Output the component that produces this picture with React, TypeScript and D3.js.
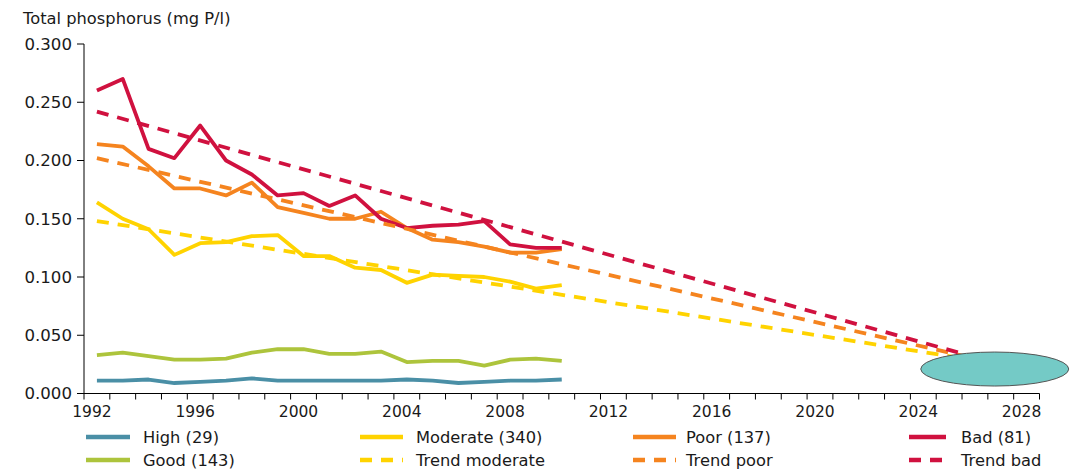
import React from "react";
import * as d3 from "d3";

// ---- data ----
const years = [1992,1993,1994,1995,1996,1997,1998,1999,2000,2001,2002,2003,2004,2005,2006,2007,2008,2009,2010];
const high = [0.011,0.011,0.012,0.009,0.010,0.011,0.013,0.011,0.011,0.011,0.011,0.011,0.012,0.011,0.009,0.010,0.011,0.011,0.012];
const good = [0.033,0.035,0.032,0.029,0.029,0.030,0.035,0.038,0.038,0.034,0.034,0.036,0.027,0.028,0.028,0.024,0.029,0.030,0.028];
const moderate = [0.164,0.150,0.141,0.119,0.129,0.130,0.135,0.136,0.118,0.118,0.108,0.106,0.095,0.102,0.101,0.100,0.096,0.090,0.093];
const poor = [0.214,0.212,0.195,0.176,0.176,0.170,0.181,0.160,0.155,0.150,0.150,0.156,0.142,0.132,0.130,0.126,0.121,0.121,0.124];
const bad = [0.260,0.270,0.210,0.202,0.230,0.200,0.188,0.170,0.172,0.161,0.170,0.150,0.142,0.144,0.145,0.148,0.128,0.125,0.125];
const trendYears = [1992, 2027];
const trendModerate = [0.148, 0.025];
const trendPoor = [0.202, 0.025];
const trendBad = [0.242, 0.025];
const targetYear = 2027;
const targetValue = 0.021;
const axisYears = d3.range(1992, 2029);
const xTickLabels = [1992,1996,2000,2004,2008,2012,2016,2020,2024,2028];
const yTicks = [0, 0.05, 0.1, 0.15, 0.2, 0.25, 0.3];
const yTitle = "Total phosphorus (mg P/l)";

const C = {
  high: "#4a8fa6",
  good: "#adc43c",
  moderate: "#ffd300",
  poor: "#f5841f",
  bad: "#d0113f",
};

const legendRows = [
  [
    { label: "High (29)", color: C.high, dash: false },
    { label: "Moderate (340)", color: C.moderate, dash: false },
    { label: "Poor (137)", color: C.poor, dash: false },
    { label: "Bad (81)", color: C.bad, dash: false },
  ],
  [
    { label: "Good (143)", color: C.good, dash: false },
    { label: "Trend moderate", color: C.moderate, dash: true },
    { label: "Trend poor", color: C.poor, dash: true },
    { label: "Trend bad", color: C.bad, dash: true },
  ],
];

export default function App() {
  const W = 1081, H = 471;
  const x0 = 84, x1 = 1039.5, yTop = 44, yBot = 393.5;
  const band = d3.scaleBand<number>().domain(axisYears).range([x0, x1]).paddingInner(0).paddingOuter(0);
  const bw = band.bandwidth();
  const xc = (yr: number) => (band(yr) as number) + bw / 2;
  const y = d3.scaleLinear().domain([0, 0.3]).range([yBot, yTop]);
  const line = d3.line<[number, number]>().x(d => xc(d[0])).y(d => y(d[1]));
  const series = (vals: number[]) => line(years.map((yr, i) => [yr, vals[i]] as [number, number])) as string;
  const trend = (vals: number[]) => line(trendYears.map((yr, i) => [yr, vals[i]] as [number, number])) as string;
  const font = "'DejaVu Sans', Verdana, sans-serif";
  const dash = "12 9";
  const legendCols = [
    { sx: 86, sw: 44, tx: 143 },
    { sx: 360, sw: 43, tx: 416 },
    { sx: 633, sw: 43, tx: 686 },
    { sx: 909, sw: 37, tx: 961 },
  ];
  const rowY = [437, 460];

  return (
    <svg width={W} height={H} style={{ position: "absolute", left: 0, top: 0, background: "#fff" }} fontFamily={font}>
      <text x={23} y={23.5} fontSize={16.3} fill="#1a1a1a">{yTitle}</text>
      {/* y axis */}
      <line x1={x0} x2={x0} y1={yTop} y2={yBot} stroke="#000" strokeWidth={1} />
      {yTicks.map(t => (
        <g key={t}>
          <line x1={x0 - 7} x2={x0} y1={y(t)} y2={y(t)} stroke="#000" />
          <text x={72} y={y(t)} dy="0.36em" textAnchor="end" fontSize={16.6} fill="#1a1a1a">{d3.format(".3f")(t)}</text>
        </g>
      ))}
      {/* x axis */}
      <line x1={x0} x2={x1} y1={yBot} y2={yBot} stroke="#000" />
      {axisYears.concat([2029]).map((yr, i) => {
        const xx = i < axisYears.length ? (band(yr) as number) : x1;
        return <line key={yr} x1={xx} x2={xx} y1={yBot} y2={yBot + 6} stroke="#000" />;
      })}
      {xTickLabels.map(yr => (
        <text key={yr} x={xc(yr) - 5} y={417} textAnchor="middle" fontSize={15.5} fill="#1a1a1a">{yr}</text>
      ))}
      {/* series */}
      <g fill="none" strokeWidth={3.8} strokeLinejoin="round">
        <path d={series(high)} stroke={C.high} />
        <path d={series(good)} stroke={C.good} />
        <path d={series(moderate)} stroke={C.moderate} />
        <path d={series(poor)} stroke={C.poor} />
        <path d={series(bad)} stroke={C.bad} />
        <path d={trend(trendModerate)} stroke={C.moderate} strokeDasharray={dash} />
        <path d={trend(trendPoor)} stroke={C.poor} strokeDasharray={dash} />
        <path d={trend(trendBad)} stroke={C.bad} strokeDasharray={dash} />
      </g>
      {/* target ellipse */}
      <ellipse cx={xc(targetYear) - 6} cy={y(targetValue)} rx={74} ry={17} fill="#74cac6" stroke="#555" strokeWidth={1} />
      {/* legend */}
      {legendRows.map((row, r) =>
        row.map((item, c) => (
          <g key={item.label}>
            <line x1={legendCols[c].sx} x2={legendCols[c].sx + legendCols[c].sw} y1={rowY[r]} y2={rowY[r]}
              stroke={item.color} strokeWidth={4.5} strokeDasharray={item.dash ? "12 9" : undefined} />
            <text x={legendCols[c].tx} y={rowY[r]} dy="0.36em" fontSize={16.3} fill="#1a1a1a">{item.label}</text>
          </g>
        ))
      )}
    </svg>
  );
}
